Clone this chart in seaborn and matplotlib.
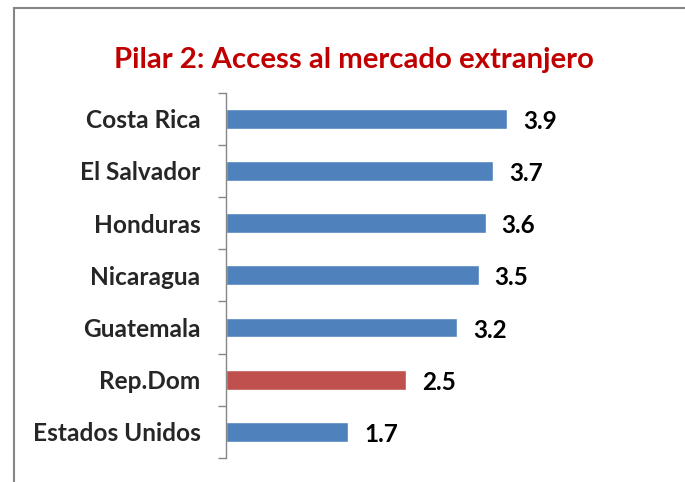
import matplotlib
matplotlib.use("Agg")
import matplotlib.pyplot as plt
import seaborn as sns
import pandas as pd
from matplotlib.patches import Rectangle

paises = ["Costa Rica", "El Salvador", "Honduras", "Nicaragua",
          "Guatemala", "Rep.Dom", "Estados Unidos"]
valores = [3.9, 3.7, 3.6, 3.5, 3.2, 2.5, 1.7]
colores = ["#4F81BD", "#4F81BD", "#4F81BD", "#4F81BD",
           "#4F81BD", "#C0504D", "#4F81BD"]

sns.set_style("white")
plt.rcParams["font.family"] = ["Lato", "DejaVu Sans"]

df = pd.DataFrame({"pais": paises, "valor": valores})

fig = plt.figure(figsize=(6.85, 4.82), dpi=100)
ax = fig.add_axes([225.5 / 685, 1 - 458 / 482, 361.5 / 685, (458 - 92.7) / 482])

sns.barplot(data=df, y="pais", x="valor", hue="pais", palette=colores,
            legend=False, width=0.38, ax=ax, saturation=1)

ax.set_xlim(0, 5)
ax.set_ylim(6.5, -0.5)
ax.set_xlabel("")
ax.set_ylabel("")
ax.set_xticks([])
for s in ["top", "right", "bottom"]:
    ax.spines[s].set_visible(False)
ax.spines["left"].set_color("#868686")
ax.spines["left"].set_linewidth(1)

# ticks between categories
ax.set_yticks(range(len(paises)))
ax.set_yticklabels(paises, fontsize=17.6, fontweight="bold")
ax.set_yticks([i - 0.5 for i in range(len(paises) + 1)], minor=True)
ax.tick_params(axis="y", which="minor", left=True, length=6, color="#868686",
               width=1, direction="out")
ax.tick_params(axis="y", which="major", left=False, length=0, pad=18)

for i, v in enumerate(valores):
    ax.text(v + 0.22, i + 0.05, f"{v}", va="center", ha="left",
            fontsize=17.5, fontweight="bold", color="black")

fig.text(354 / 685, 1 - 60 / 482, "Pilar 2: Access al mercado extranjero",
         ha="center", va="center", fontsize=21.2, fontweight="bold", color="#C00000")

# chart frame
fig.patches.append(Rectangle((13.5 / 685, -0.1), 1.2, 1 - 8 / 482 + 0.1,
                             transform=fig.transFigure, fill=False,
                             edgecolor="#868686", linewidth=1.5))

fig.savefig("out.png", dpi=100)
